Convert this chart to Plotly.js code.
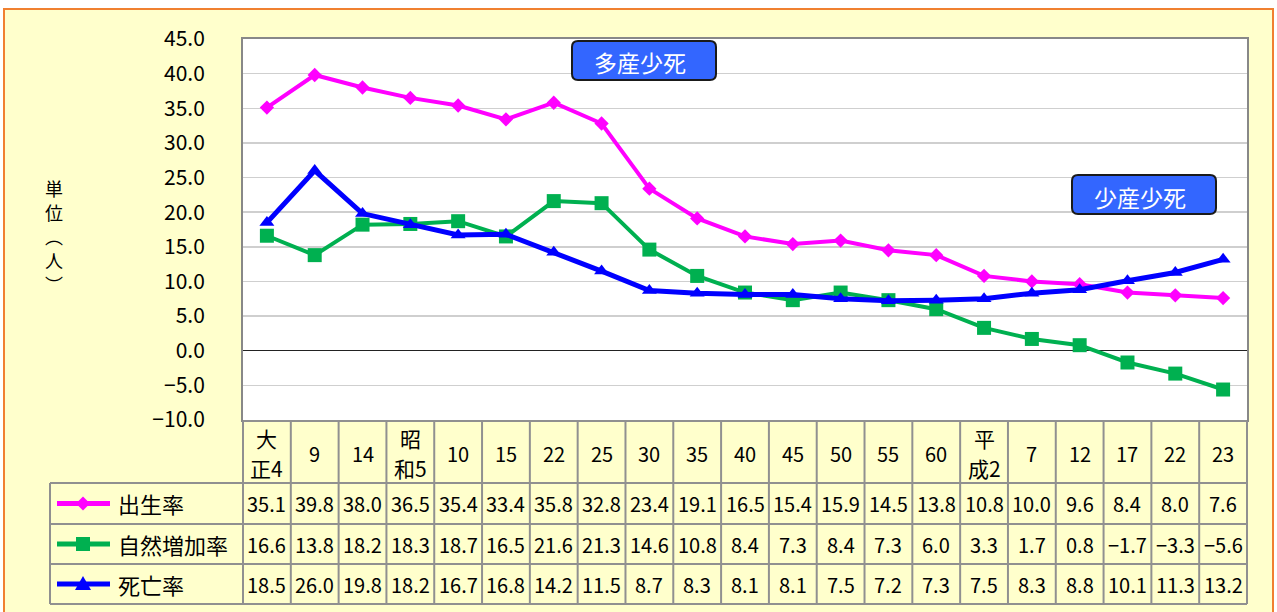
<!DOCTYPE html>
<html>
<head>
<meta charset="utf-8">
<script src="https://cdn.plot.ly/plotly-3.0.1.min.js"></script>
<style>html,body{margin:0;padding:0;background:#fff;}#chart{width:1277px;height:612px;}</style>
</head>
<body>
<div id="chart"></div>
<script>
// ---- data ----
const categories = ["大<br>正4","9","14","昭<br>和5","10","15","22","25","30","35","40","45","50","55","60","平<br>成2","7","12","17","22","23"];
const seriesNames = ["出生率","自然増加率","死亡率"];
const birthRate = [35.1,39.8,38.0,36.5,35.4,33.4,35.8,32.8,23.4,19.1,16.5,15.4,15.9,14.5,13.8,10.8,10.0,9.6,8.4,8.0,7.6];
const naturalIncrease = [16.6,13.8,18.2,18.3,18.7,16.5,21.6,21.3,14.6,10.8,8.4,7.3,8.4,7.3,6.0,3.3,1.7,0.8,-1.7,-3.3,-5.6];
const deathRate = [18.5,26.0,19.8,18.2,16.7,16.8,14.2,11.5,8.7,8.3,8.1,8.1,7.5,7.2,7.3,7.5,8.3,8.8,10.1,11.3,13.2];
const yTitleChars = ["単","位","︵","人","︶"];
const boxLabels = ["多産少死","少産少死"];

// ---- layout helpers ----
const W = 1277, H = 612;
const L = 243, R = 1247, T = 39, B = 420;
const px2x = X => (X - L) / (R - L);
const px2y = Y => (B - Y) / (B - T);
const FONT = "'Noto Sans CJK JP', 'Noto Sans', sans-serif";
const colors = ["#FF00FF", "#00B050", "#0000FF"];
const symbols = ["diamond", "square", "triangle-up"];
const seriesData = [birthRate, naturalIncrease, deathRate];
const idx = categories.map((c, i) => i);

const traces = seriesData.map((vals, k) => ({
  type: "scatter", mode: "lines+markers",
  x: idx, y: vals, name: seriesNames[k],
  line: {color: colors[k], width: k === 2 ? 5 : 4},
  marker: {symbol: symbols[k], color: colors[k], size: [11, 14, 13][k]},
  hoverinfo: "x+y", showlegend: false
}));

const shapes = [];
const annotations = [];
function label(xref, x, Y, text, size, color, xanchor) {
  annotations.push({xref: xref, yref: "paper", x: x, y: px2y(Y), text: text, showarrow: false,
    xanchor: xanchor || "center", yanchor: "middle",
    font: {family: FONT, size: size, color: color || "#000"}});
}
// background panel
shapes.push({type: "rect", xref: "paper", yref: "paper", layer: "below",
  x0: px2x(4), x1: px2x(1273), y0: px2y(640), y1: px2y(9),
  fillcolor: "#FFFFCC", line: {color: "#F08030", width: 2}});
// plot area white
shapes.push({type: "rect", xref: "paper", yref: "paper", layer: "below",
  x0: 0, x1: 1, y0: 0, y1: 1, fillcolor: "#FFFFFF", line: {width: 0}});

// table geometry (pixels)
const headTop = 421;
const rowEdges = [483, 524, 564, 604];
const tableLeft = 50;
const gridCol = "#909090";
shapes.push({type: "line", xref: "paper", yref: "paper", x0: 0, x1: 1, y0: px2y(headTop), y1: px2y(headTop), line: {color: gridCol, width: 2}});
rowEdges.forEach(Y => shapes.push({type: "line", xref: "paper", yref: "paper",
  x0: px2x(tableLeft), x1: 1, y0: px2y(Y), y1: px2y(Y), line: {color: gridCol, width: 2}}));
for (let i = 0; i <= categories.length; i++) {
  const xp = i / categories.length;
  shapes.push({type: "line", xref: "paper", yref: "paper", x0: xp, x1: xp,
    y0: px2y(headTop), y1: px2y(rowEdges[3]), line: {color: gridCol, width: 2}});
}
shapes.push({type: "line", xref: "paper", yref: "paper", x0: px2x(tableLeft), x1: px2x(tableLeft),
  y0: px2y(rowEdges[0]), y1: px2y(rowEdges[3]), line: {color: gridCol, width: 2}});

// header labels
categories.forEach((c, i) => {
  const parts = c.split("<br>");
  if (parts.length === 1) {
    label("x", i, 453, c, 20);
  } else {
    label("x", i, 438, parts[0], 21);
    label("x", i, 468, parts[1], 21);
  }
});
const fmt = v => (v < 0 ? "\u2212" + Math.abs(v).toFixed(1) : v.toFixed(1));
// data rows
seriesData.forEach((vals, k) => {
  const yc = (rowEdges[k] + rowEdges[k + 1]) / 2;
  vals.forEach((v, i) => label("x", i, yc, fmt(v), 20));
  shapes.push({type: "line", xref: "paper", yref: "paper", x0: px2x(57), x1: px2x(110),
    y0: px2y(yc), y1: px2y(yc), line: {color: colors[k], width: 5}});
  const cx = 83, cy = yc;
  let path;
  if (k === 0) {
    const r = 7;
    path = `M${px2x(cx)},${px2y(cy - r)} L${px2x(cx + r)},${px2y(cy)} L${px2x(cx)},${px2y(cy + r)} L${px2x(cx - r)},${px2y(cy)} Z`;
  } else if (k === 1) {
    const r = 7;
    path = `M${px2x(cx - r)},${px2y(cy - r)} L${px2x(cx + r)},${px2y(cy - r)} L${px2x(cx + r)},${px2y(cy + r)} L${px2x(cx - r)},${px2y(cy + r)} Z`;
  } else {
    path = `M${px2x(cx)},${px2y(cy - 8)} L${px2x(cx + 8)},${px2y(cy + 6)} L${px2x(cx - 8)},${px2y(cy + 6)} Z`;
  }
  shapes.push({type: "path", xref: "paper", yref: "paper", path: path, fillcolor: colors[k], line: {width: 0}});
  label("paper", px2x(116), yc, seriesNames[k], 22, "#000", "left");
});

// y-axis title (stacked characters)
const yTitlePos = [188, 212, 236, 260, 284];
yTitleChars.forEach((ch, i) => label("paper", px2x(54), yTitlePos[i], ch, 18));

// rounded label boxes
function roundRect(x0, y0, x1, y1, r) {
  const X = px2x, Y = px2y;
  return `M${X(x0 + r)},${Y(y0)} L${X(x1 - r)},${Y(y0)} Q${X(x1)},${Y(y0)} ${X(x1)},${Y(y0 + r)} ` +
    `L${X(x1)},${Y(y1 - r)} Q${X(x1)},${Y(y1)} ${X(x1 - r)},${Y(y1)} L${X(x0 + r)},${Y(y1)} ` +
    `Q${X(x0)},${Y(y1)} ${X(x0)},${Y(y1 - r)} L${X(x0)},${Y(y0 + r)} Q${X(x0)},${Y(y0)} ${X(x0 + r)},${Y(y0)} Z`;
}
const boxes = [[572, 41, 716, 80, 640, 62], [1072, 175, 1216, 214, 1140, 197]];
boxes.forEach((b, i) => {
  shapes.push({type: "path", xref: "paper", yref: "paper", path: roundRect(b[0], b[1], b[2], b[3], 6),
    fillcolor: "#3366FF", line: {color: "#1a1a1a", width: 2}});
  label("paper", px2x(b[4]), b[5], boxLabels[i], 23, "#FFFFFF");
});

const layout = {
  width: W, height: H,
  margin: {l: L, r: W - R, t: T, b: H - B, pad: 0},
  paper_bgcolor: "#FFFFFF", plot_bgcolor: "rgba(0,0,0,0)",
  xaxis: {range: [-0.5, categories.length - 0.5], showticklabels: false, showgrid: false, zeroline: false,
    showline: true, linecolor: "#888888", linewidth: 2, mirror: true, ticks: "", fixedrange: true},
  yaxis: {range: [-10, 45], dtick: 5, tick0: 0, tickformat: ".1f", showgrid: true, gridcolor: "#CFCFCF", gridwidth: 1.5,
    zeroline: true, zerolinecolor: "#222222", zerolinewidth: 1.5,
    showline: true, linecolor: "#888888", linewidth: 2, mirror: true, ticks: "", ticklabelstandoff: 32,
    tickfont: {family: FONT, size: 21, color: "#000"}, fixedrange: true},
  shapes: shapes, annotations: annotations, showlegend: false
};
Plotly.newPlot("chart", traces, layout, {displayModeBar: false, staticPlot: true});
</script>
</body>
</html>
